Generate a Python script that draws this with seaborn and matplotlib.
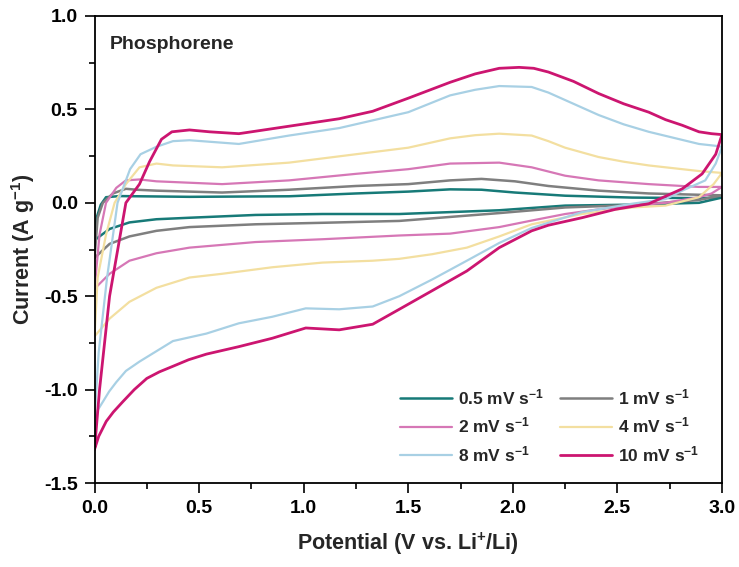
import numpy as np
import pandas as pd
import matplotlib
matplotlib.use("Agg")
import matplotlib.pyplot as plt
import seaborn as sns

# ---------------- data ----------------
rates = ["0.5", "1", "2", "4", "8", "10"]

v05_up = [0, 0.01, 0.03, 0.055, 0.12, 0.454, 0.93, 1.25, 1.5, 1.70, 1.85, 2.01, 2.25, 2.57, 2.89, 3.0]
i05_up = [-0.2, -0.08, -0.01, 0.03, 0.036, 0.032, 0.035, 0.05, 0.06, 0.072, 0.07, 0.055, 0.038, 0.028, 0.025, 0.028]
v05_dn = [3.0, 2.89, 2.57, 2.25, 1.935, 1.457, 1.09, 0.77, 0.454, 0.296, 0.167, 0.072, 0.0]
i05_dn = [0.028, 0.0, -0.01, -0.015, -0.04, -0.06, -0.06, -0.065, -0.08, -0.088, -0.105, -0.14, -0.2]

v1_up = [0, 0.015, 0.04, 0.088, 0.15, 0.2, 0.296, 0.61, 0.93, 1.25, 1.5, 1.70, 1.85, 2.01, 2.17, 2.41, 2.65, 2.89, 3.0]
i1_up = [-0.295, -0.08, 0.0, 0.05, 0.075, 0.07, 0.065, 0.055, 0.07, 0.09, 0.10, 0.12, 0.128, 0.115, 0.09, 0.065, 0.05, 0.043, 0.04]
v1_dn = [3.0, 2.89, 2.57, 2.25, 1.935, 1.457, 1.09, 0.77, 0.454, 0.296, 0.167, 0.072, 0.0]
i1_dn = [0.04, 0.015, -0.012, -0.025, -0.055, -0.097, -0.107, -0.115, -0.13, -0.15, -0.18, -0.22, -0.295]

v2_up = [0, 0.024, 0.055, 0.104, 0.15, 0.215, 0.296, 0.61, 0.93, 1.25, 1.5, 1.70, 1.935, 2.09, 2.25, 2.41, 2.65, 2.89, 3.0]
i2_up = [-0.46, -0.17, 0.0, 0.08, 0.12, 0.125, 0.115, 0.10, 0.12, 0.155, 0.18, 0.21, 0.215, 0.19, 0.145, 0.12, 0.10, 0.085, 0.085]
v2_dn = [3.0, 2.95, 2.89, 2.73, 2.57, 2.41, 2.25, 2.09, 1.935, 1.70, 1.457, 1.09, 0.77, 0.454, 0.296, 0.167, 0.072, 0.0]
i2_dn = [0.085, 0.05, 0.03, 0.0, -0.015, -0.035, -0.06, -0.095, -0.13, -0.165, -0.175, -0.195, -0.21, -0.24, -0.27, -0.31, -0.38, -0.46]

v4_up = [0, 0.015, 0.055, 0.096, 0.15, 0.215, 0.296, 0.375, 0.61, 0.93, 1.25, 1.5, 1.70, 1.82, 1.935, 2.09, 2.17, 2.25, 2.41, 2.53, 2.65, 2.89, 3.0]
i4_up = [-0.715, -0.40, -0.17, 0.0, 0.10, 0.19, 0.21, 0.20, 0.19, 0.215, 0.26, 0.295, 0.345, 0.362, 0.37, 0.36, 0.33, 0.295, 0.245, 0.22, 0.20, 0.17, 0.16]
v4_dn = [3.0, 2.96, 2.89, 2.73, 2.57, 2.33, 2.09, 1.935, 1.78, 1.615, 1.457, 1.33, 1.09, 0.85, 0.61, 0.454, 0.296, 0.167, 0.072, 0.0]
i4_dn = [0.16, 0.10, 0.03, -0.015, -0.025, -0.06, -0.115, -0.18, -0.24, -0.275, -0.30, -0.31, -0.32, -0.345, -0.38, -0.40, -0.455, -0.53, -0.62, -0.715]

v8_up = [0, 0.02, 0.06, 0.11, 0.17, 0.22, 0.296, 0.375, 0.454, 0.69, 0.93, 1.17, 1.5, 1.70, 1.82, 1.935, 2.09, 2.17, 2.25, 2.41, 2.53, 2.65, 2.89, 2.97, 3.0]
i8_up = [-1.15, -0.8, -0.4, 0.0, 0.18, 0.26, 0.30, 0.33, 0.335, 0.315, 0.36, 0.40, 0.485, 0.575, 0.605, 0.625, 0.62, 0.59, 0.55, 0.47, 0.42, 0.38, 0.315, 0.305, 0.30]
v8_dn = [3.0, 2.97, 2.92, 2.81, 2.73, 2.57, 2.33, 2.09, 1.935, 1.78, 1.615, 1.457, 1.33, 1.17, 1.01, 0.85, 0.69, 0.535, 0.375, 0.215, 0.15, 0.104, 0.07, 0.04, 0.015, 0.0]
i8_dn = [0.30, 0.21, 0.12, 0.065, 0.02, -0.005, -0.05, -0.135, -0.215, -0.31, -0.41, -0.50, -0.555, -0.57, -0.565, -0.61, -0.645, -0.70, -0.74, -0.85, -0.90, -0.96, -1.01, -1.065, -1.11, -1.15]

v10_up = [0, 0.024, 0.072, 0.15, 0.215, 0.263, 0.32, 0.37, 0.454, 0.55, 0.69, 0.93, 1.17, 1.33, 1.50, 1.70, 1.82, 1.935, 2.03, 2.10, 2.17, 2.29, 2.41, 2.53, 2.65, 2.73, 2.81, 2.89, 2.95, 3.0]
i10_up = [-1.32, -1.0, -0.5, 0.0, 0.10, 0.22, 0.34, 0.38, 0.39, 0.38, 0.37, 0.41, 0.45, 0.49, 0.56, 0.645, 0.69, 0.72, 0.725, 0.72, 0.70, 0.65, 0.585, 0.53, 0.485, 0.445, 0.415, 0.38, 0.37, 0.365]
v10_dn = [3.0, 2.97, 2.905, 2.81, 2.65, 2.49, 2.33, 2.17, 2.09, 1.935, 1.78, 1.615, 1.457, 1.33, 1.17, 1.01, 0.85, 0.69, 0.535, 0.45, 0.375, 0.31, 0.25, 0.19, 0.135, 0.09, 0.056, 0.02, 0.0]
i10_dn = [0.365, 0.26, 0.155, 0.075, -0.005, -0.035, -0.08, -0.12, -0.15, -0.24, -0.365, -0.47, -0.57, -0.65, -0.68, -0.67, -0.725, -0.77, -0.81, -0.84, -0.875, -0.905, -0.94, -1.0, -1.065, -1.12, -1.17, -1.25, -1.32]

curves = {
    "0.5": (v05_up, i05_up, v05_dn, i05_dn),
    "1": (v1_up, i1_up, v1_dn, i1_dn),
    "2": (v2_up, i2_up, v2_dn, i2_dn),
    "4": (v4_up, i4_up, v4_dn, i4_dn),
    "8": (v8_up, i8_up, v8_dn, i8_dn),
    "10": (v10_up, i10_up, v10_dn, i10_dn),
}

colors = ["#177a78", "#7f7f7f", "#d677b6", "#f3dfa0", "#a8d0e4", "#cc1570"]
widths = [1.8, 1.8, 1.6, 1.6, 1.6, 2.0]

# ---------------- build table ----------------
rows = []
for r in rates:
    vu, iu, vd, idn = curves[r]
    lab = f"{r} mV s$^{{-1}}$"
    k = 0
    for v, i in zip(list(vu) + list(vd), list(iu) + list(idn)):
        rows.append({"V": v, "I": i, "rate": lab, "order": k})
        k += 1
df = pd.DataFrame(rows)
labels = [f"{r} mV s$^{{-1}}$" for r in rates]

# ---------------- style ----------------
sns.set_theme(style="ticks")
plt.rcParams["font.family"] = ["Liberation Sans", "DejaVu Sans"]
plt.rcParams["font.weight"] = "bold"
plt.rcParams["axes.unicode_minus"] = False
plt.rcParams["mathtext.fontset"] = "custom"
plt.rcParams["mathtext.rm"] = "Liberation Sans:bold"
plt.rcParams["mathtext.it"] = "Liberation Sans:bold"
plt.rcParams["mathtext.bf"] = "Liberation Sans:bold"
plt.rcParams["mathtext.default"] = "rm"
plt.rcParams["lines.solid_joinstyle"] = "round"
plt.rcParams["lines.solid_capstyle"] = "round"

fig = plt.figure(figsize=(7.39, 5.67), dpi=100)
ax = fig.add_axes([0.1279, 0.1481, 0.977 - 0.1279, 0.9718 - 0.1481])

sns.lineplot(data=df, x="V", y="I", hue="rate", hue_order=labels,
             palette=dict(zip(labels, colors)), sort=False, estimator=None,
             units="rate", ax=ax, legend=True)

for line, lw in zip(ax.lines, widths):
    line.set_linewidth(lw)
    line.set_solid_joinstyle("round")

ax.set_xlim(0, 3.0)
ax.set_ylim(-1.5, 1.0)
ax.set_xticks([0, 0.5, 1.0, 1.5, 2.0, 2.5, 3.0])
ax.set_yticks([-1.5, -1.0, -0.5, 0.0, 0.5, 1.0])
ax.set_xticklabels(["0.0", "0.5", "1.0", "1.5", "2.0", "2.5", "3.0"])
ax.set_yticklabels(["-1.5", "-1.0", "-0.5", "0.0", "0.5", "1.0"])
ax.set_xticks(np.arange(0.25, 3.0, 0.5), minor=True)
ax.set_yticks(np.arange(-1.25, 1.0, 0.5), minor=True)
ax.tick_params(axis="both", which="major", direction="out", length=7, width=1.2,
               labelsize=14, pad=5, color="black", labelcolor="black")
ax.tick_params(axis="both", which="minor", direction="out", length=4, width=1.2, color="black")
ax.tick_params(top=False, right=False, which="both")
for s in ax.spines.values():
    s.set_visible(True)
    s.set_linewidth(1.3)
    s.set_color("black")

ax.set_xlabel("Potential (V vs. Li$^{+}$/Li)", fontsize=15.5, fontweight="bold", labelpad=10)
ax.set_ylabel("Current (A g$^{-1}$)", fontsize=15.5, fontweight="bold", labelpad=5)

ax.text(0.025, 0.94, "Phosphorene", transform=ax.transAxes, fontsize=14,
        fontweight="bold", ha="left", va="center")

handles, labs = ax.get_legend_handles_labels()
hmap = dict(zip(labs, handles))
order = [labels[0], labels[2], labels[4], labels[1], labels[3], labels[5]]
leg = ax.legend([hmap[l] for l in order], order, ncol=2, loc="lower right",
                bbox_to_anchor=(0.975, 0.025), frameon=False, fontsize=12.5,
                handlelength=3.0, handletextpad=0.35, columnspacing=0.9,
                labelspacing=0.5, borderaxespad=0)
for lh, l in zip(leg.get_lines(), order):
    lh.set_linewidth(widths[labels.index(l)])

fig.savefig("out.png", dpi=100)
